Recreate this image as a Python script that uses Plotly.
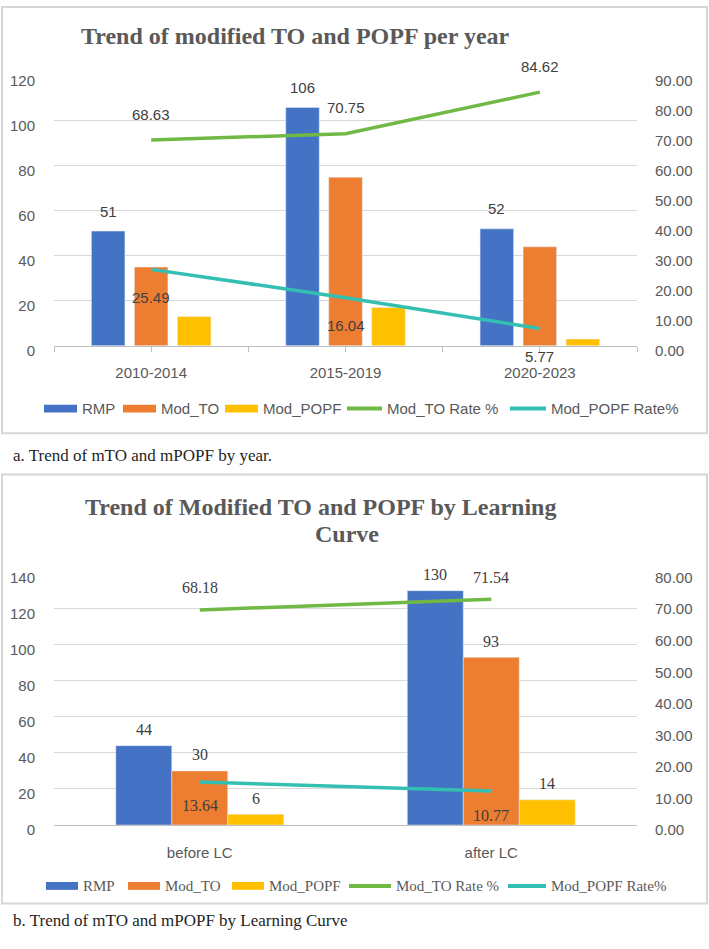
import plotly.graph_objects as go

# ---------------- data ----------------
cats_a = ["2010-2014", "2015-2019", "2020-2023"]
rmp_a = [51, 106, 52]
modto_a = [35, 75, 44]
modpopf_a = [13, 17, 3]
modto_rate_a = [68.63, 70.75, 84.62]
modpopf_rate_a = [25.49, 16.04, 5.77]

cats_b = ["before LC", "after LC"]
rmp_b = [44, 130]
modto_b = [30, 93]
modpopf_b = [6, 14]
modto_rate_b = [68.18, 71.54]
modpopf_rate_b = [13.64, 10.77]

series_names = ["RMP", "Mod_TO", "Mod_POPF", "Mod_TO Rate %", "Mod_POPF Rate%"]
colors = ["#4472C4", "#ED7D31", "#FFC000", "#70B944", "#33C0B2"]

W, H = 709, 949
SANS = "Liberation Sans"
SERIF = "Liberation Serif"
GREY = "#595959"
LBL = "#404040"


def px(x):
    return x / W


def py(y):
    return 1 - y / H


fig = go.Figure()

# ---------------- panel a ----------------
xa = list(range(len(cats_a)))
wa, slot_a = 0.1724, 0.2213
for i, vals in enumerate([rmp_a, modto_a, modpopf_a]):
    fig.add_trace(go.Bar(x=xa, y=vals, name=series_names[i], marker_color=colors[i],
                         width=wa, offset=(i - 1) * slot_a - wa / 2,
                         xaxis="x", yaxis="y", showlegend=False))
for j, vals in enumerate([modto_rate_a, modpopf_rate_a]):
    fig.add_trace(go.Scatter(x=xa, y=vals, name=series_names[3 + j], mode="lines",
                             line=dict(color=colors[3 + j], width=3.5),
                             xaxis="x", yaxis="y2", showlegend=False))

# ---------------- panel b ----------------
xb = list(range(len(cats_b)))
wb = 0.192
for i, vals in enumerate([rmp_b, modto_b, modpopf_b]):
    fig.add_trace(go.Bar(x=xb, y=vals, name=series_names[i], marker_color=colors[i],
                         width=wb, offset=(i - 1) * wb - wb / 2,
                         xaxis="x2", yaxis="y3", showlegend=False))
for j, vals in enumerate([modto_rate_b, modpopf_rate_b]):
    fig.add_trace(go.Scatter(x=xb, y=vals, name=series_names[3 + j], mode="lines",
                             line=dict(color=colors[3 + j], width=3.5),
                             xaxis="x2", yaxis="y4", showlegend=False))

annotations = []
shapes = []


def lab(x, y, xref, yref, text, shift, family, size):
    annotations.append(dict(x=x, y=y, xref=xref, yref=yref, text=text,
                            showarrow=False, yshift=shift, xanchor="center",
                            yanchor="middle",
                            font=dict(family=family, size=size, color=LBL)))


# data labels panel a
for k, v in enumerate(rmp_a):
    lab(xa[k] - slot_a, v, "x", "y", str(v), 20, SANS, 15)
for k, v in enumerate(modto_rate_a):
    lab(xa[k], v, "x", "y2", f"{v:.2f}", 26, SANS, 15)
for k, v in enumerate(modpopf_rate_a):
    lab(xa[k], v, "x", "y2", f"{v:.2f}", -28, SANS, 15)

# data labels panel b
for i, vals in enumerate([rmp_b, modto_b, modpopf_b]):
    for k, v in enumerate(vals):
        lab(xb[k] + (i - 1) * wb, v, "x2", "y3", str(v), 16, SERIF, 16)
for k, v in enumerate(modto_rate_b):
    lab(xb[k], v, "x2", "y4", f"{v:.2f}", 22, SERIF, 16)
for k, v in enumerate(modpopf_rate_b):
    lab(xb[k], v, "x2", "y4", f"{v:.2f}", -24, SERIF, 16)

# panel borders
for (y0, y1) in [(3, 437), (479, 916)]:
    shapes.append(dict(type="rect", xref="paper", yref="paper",
                       x0=px(2), x1=px(707), y0=py(y1), y1=py(y0),
                       line=dict(color="#d6d6d6", width=2), fillcolor="rgba(0,0,0,0)",
                       layer="below"))


# custom legends (swatch left px, swatch width)
def add_legend(y, lefts, font_family, font_size):
    for i, (lx, sw) in enumerate(lefts):
        if i < 3:
            shapes.append(dict(type="rect", xref="paper", yref="paper",
                               x0=px(lx), x1=px(lx + sw), y0=py(y + 4), y1=py(y - 4),
                               fillcolor=colors[i], line=dict(width=0)))
        else:
            shapes.append(dict(type="line", xref="paper", yref="paper",
                               x0=px(lx), x1=px(lx + sw), y0=py(y), y1=py(y),
                               line=dict(color=colors[i], width=4)))
        annotations.append(dict(x=px(lx + sw + 3), y=py(y), xref="paper", yref="paper",
                                xanchor="left", yanchor="middle", showarrow=False,
                                text=series_names[i],
                                font=dict(family=font_family, size=font_size, color=GREY)))


add_legend(412, [(44, 33), (123, 33), (225, 33), (347, 35), (510, 36)], SANS, 15)
add_legend(898, [(46, 32), (128, 32), (232, 32), (349, 42), (508, 38)], SERIF, 15)


def paper_text(x, y, text, family, size, color, xanchor="center"):
    annotations.append(dict(x=px(x), y=py(y), xref="paper", yref="paper", showarrow=False,
                            xanchor=xanchor, yanchor="middle", text=text,
                            font=dict(family=family, size=size, color=color)))


# titles
paper_text(295, 33, "<b>Trend of modified TO and POPF per year</b>", SERIF, 24, GREY)
paper_text(320, 512, "<b>Trend of Modified TO and POPF by Learning</b>", SERIF, 24, GREY)
paper_text(347, 540, "<b>Curve</b>", SERIF, 24, GREY)

# captions
paper_text(11, 460, "a. Trend of mTO and mPOPF by year.", SERIF, 17, "#1f1f1f", "left")
paper_text(11, 933, "b. Trend of mTO and mPOPF by Learning Curve", SERIF, 17, "#1f1f1f", "left")

tickfont = dict(family=SANS, size=15, color=GREY)
xdom = [px(54), px(637)]

fig.update_layout(
    width=W, height=H, autosize=False,
    margin=dict(l=0, r=0, t=0, b=0),
    paper_bgcolor="white", plot_bgcolor="white",
    barmode="group",
    showlegend=False,
    annotations=annotations,
    shapes=shapes,
    xaxis=dict(domain=xdom, anchor="y", range=[-0.5, len(cats_a) - 0.5],
               tickmode="array", tickvals=xa, ticktext=cats_a,
               showgrid=False, zeroline=False, showline=True, linecolor="#bfbfbf",
               ticks="outside", ticklen=5, tickcolor="#bfbfbf",
               minor=dict(ticks="outside", ticklen=5, tickcolor="#bfbfbf", dtick=0.5,
                          tick0=-0.5, showgrid=False),
               tickfont=tickfont, ticklabelstandoff=8, fixedrange=True),
    yaxis=dict(domain=[py(348), py(73.3)], anchor="x", range=[0, 120], dtick=20,
               gridcolor="#d9d9d9", gridwidth=1, zeroline=False, showline=False,
               tickfont=tickfont, ticklabelstandoff=18, ticklabelshift=5),
    yaxis2=dict(overlaying="y", anchor="x", side="right", range=[0, 90], dtick=10,
                tickformat=".2f", showgrid=False, zeroline=False, showline=False,
                tickfont=tickfont, ticklabelstandoff=17, ticklabelshift=5),
    xaxis2=dict(domain=xdom, anchor="y3", range=[-0.5, len(cats_b) - 0.5],
                tickmode="array", tickvals=xb, ticktext=cats_b,
                showgrid=False, zeroline=False, showline=True, linecolor="#bfbfbf",
                ticks="", tickfont=tickfont, ticklabelstandoff=14),
    yaxis3=dict(domain=[py(836), py(579)], anchor="x2", range=[0, 140], dtick=20,
                gridcolor="#d9d9d9", gridwidth=1, zeroline=False, showline=False,
                tickfont=tickfont, ticklabelstandoff=18, ticklabelshift=5),
    yaxis4=dict(overlaying="y3", anchor="x2", side="right", range=[0, 80], dtick=10,
                tickformat=".2f", showgrid=False, zeroline=False, showline=False,
                tickfont=tickfont, ticklabelstandoff=17, ticklabelshift=5),
)

fig.write_html("out.html")
